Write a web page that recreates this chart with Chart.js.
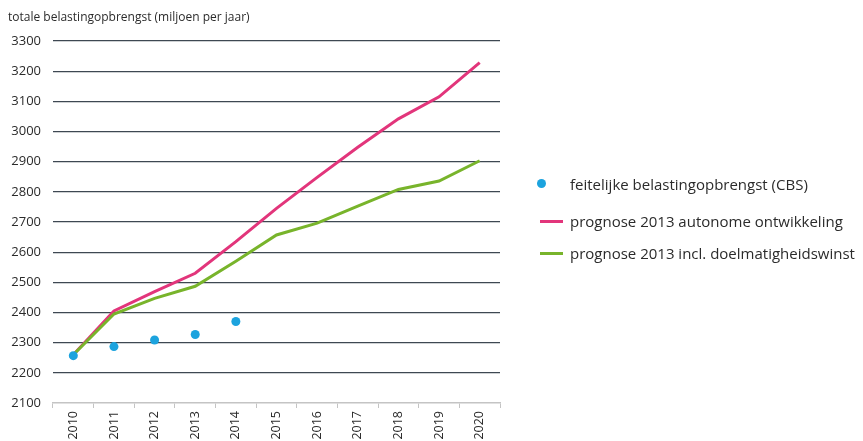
<!DOCTYPE html>
<html lang="nl">
<head>
<meta charset="utf-8">
<title>Belastingopbrengst</title>
<script src="https://cdn.jsdelivr.net/npm/chart.js@4.4.1/dist/chart.umd.min.js"></script>
<style>
  html, body { margin: 0; padding: 0; background: #fff; }
  #wrap { position: relative; width: 863px; height: 441px; }
  #legenda { position: absolute; left: 532px; top: 172px; font-family: "Open Sans", sans-serif; font-size: 15px; color: #2b2b2b; }
  #legenda .item { position: relative; height: 24px; line-height: 24px; padding-left: 38px; white-space: nowrap; }
  #legenda .dot { position: absolute; left: 5px; top: 7px; width: 9px; height: 9px; border-radius: 50%; }
  #legenda .lijn { position: absolute; left: 8px; top: 11px; width: 23px; height: 3px; }
</style>
</head>
<body>
<div id="wrap">
  <canvas id="grafiek" width="863" height="441"></canvas>
  <div id="legenda"></div>
</div>
<script>
// jaren op de x-as
const jaren = ['2010', '2011', '2012', '2013', '2014', '2015', '2016', '2017', '2018', '2019', '2020'];

// feitelijke opbrengst volgens CBS (alleen t/m 2014)
const feitelijk = [2257, 2287, 2309, 2327, 2370, null, null, null, null, null, null];

// prognoses 2013
const autonoom = [2260, 2405, 2469, 2530, 2635, 2745, 2848, 2948, 3042, 3115, 3228];
const doelmatig = [2260, 2395, 2447, 2487, 2570, 2657, 2696, 2753, 2808, 2836, 2903];

// y-as
const yMin = 2100;
const yMax = 3300;
const yStap = 100;

const BLAUW = '#1ca3de';
const ROZE = '#e2357b';
const GROEN = '#78b42b';

const ctx = document.getElementById('grafiek').getContext('2d');
const grafiek = new Chart(ctx, {
  type: 'line',
  data: {
    labels: jaren,
    datasets: [
      {
        label: 'feitelijke belastingopbrengst (CBS)',
        data: feitelijk,
        showLine: false,
        pointRadius: 4.5,
        pointBackgroundColor: BLAUW,
        pointBorderWidth: 0,
        borderColor: BLAUW,
        order: 0
      },
      {
        label: 'prognose 2013 autonome ontwikkeling',
        data: autonoom,
        borderColor: ROZE,
        borderWidth: 3,
        pointRadius: 0,
        tension: 0,
        order: 2
      },
      {
        label: 'prognose 2013 incl. doelmatigheidswinst',
        data: doelmatig,
        borderColor: GROEN,
        borderWidth: 3,
        pointRadius: 0,
        tension: 0,
        order: 1
      }
    ]
  },
  options: {
    responsive: false,
    animation: false,
    layout: { padding: { left: 8, right: 363, top: 0, bottom: 0 } },
    plugins: {
      legend: { display: false },
      tooltip: { enabled: false },
      title: {
        display: true,
        text: 'totale belastingopbrengst (miljoen per jaar)',
        align: 'start',
        color: '#2b2b2b',
        font: { family: 'Open Sans', size: 12, weight: 'normal', lineHeight: 1.2 },
        padding: { top: 10, bottom: 16.6 }
      }
    },
    scales: {
      x: {
        offset: true,
        afterFit: (s) => { s.height = 38; },
        grid: {
          offset: true,
          drawOnChartArea: false,
          drawTicks: true,
          tickLength: 5,
          color: '#c4c4c4'
        },
        border: { color: '#c4c4c4', width: 1.5 },
        ticks: {
          minRotation: 90,
          maxRotation: 90,
          padding: 3,
          color: '#2b2b2b',
          font: { family: 'Open Sans', size: 12.5 }
        }
      },
      y: {
        min: yMin,
        max: yMax,
        afterFit: (s) => { s.width = 45; },
        grid: {
          drawTicks: false,
          lineWidth: 1.3,
          color: (c) => (c.tick && c.tick.value === yMin ? 'rgba(0,0,0,0)' : '#3e4852')
        },
        border: { display: false },
        ticks: {
          stepSize: yStap,
          padding: 12,
          color: '#2b2b2b',
          font: { family: 'Open Sans', size: 13 },
          callback: (v) => String(v)
        }
      }
    }
  }
});

// legenda naast de grafiek, opgebouwd uit de datasets
const legenda = document.getElementById('legenda');
grafiek.data.datasets.forEach((ds, i) => {
  const item = document.createElement('div');
  item.className = 'item';
  if (i > 0) item.style.marginTop = i === 1 ? '13px' : '8px';
  const teken = document.createElement('span');
  teken.className = ds.showLine === false ? 'dot' : 'lijn';
  teken.style.background = ds.borderColor;
  item.appendChild(teken);
  item.appendChild(document.createTextNode(ds.label));
  legenda.appendChild(item);
});
</script>
</body>
</html>
